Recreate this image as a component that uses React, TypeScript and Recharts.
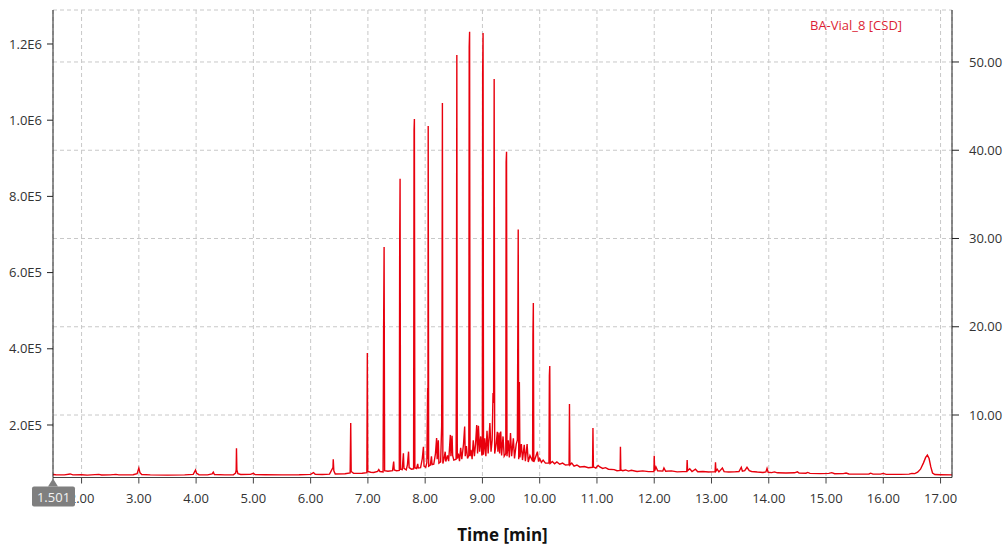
import { CartesianGrid, Line, LineChart, XAxis, YAxis } from 'recharts';

// chromatogram trace, [time min, counts]
const earlyTrace: [number, number][] = [
  [1.501, 70000], [1.55, 69500], [1.7, 69000], [1.8, 71500], [1.85, 69000],
  [2.0, 69500], [2.1, 68500], [2.3, 70500], [2.35, 68800], [2.5, 69000],
  [2.6, 70500], [2.65, 69000], [2.9, 69500], [2.97, 72000], [3.0, 87000],
  [3.02, 75000], [3.05, 70000], [3.2, 69000], [3.5, 68500], [3.8, 69000],
  [3.95, 70500], [3.99, 82000], [4.01, 73000], [4.05, 69500], [4.2, 69000],
  [4.28, 71500], [4.3, 76000], [4.32, 70000], [4.5, 69000], [4.65, 69500],
  [4.69, 74000], [4.7, 82000], [4.705, 139000], [4.712, 82000], [4.73, 72000],
  [4.78, 70000], [4.95, 70500], [5.0, 73000], [5.03, 70000], [5.2, 69500],
  [5.5, 69000], [5.8, 69500], [6.0, 70500], [6.05, 75000], [6.08, 70500],
  [6.2, 70000], [6.33, 71000], [6.39, 88000], [6.395, 110000], [6.405, 80000],
  [6.43, 71500], [6.6, 72000], [6.69, 74000], [6.7, 205000], [6.708, 78000],
  [6.75, 73000], [6.9, 73500], [6.982, 75000], [6.99, 389000], [6.998, 78000],
];

const mainTrace: [number, number][] = [
  [7.05, 76000], [7.1, 75500], [7.17, 78000], [7.19, 83000], [7.21, 78000],
  [7.265, 77000], [7.274, 442000], [7.283, 667000], [7.292, 80000], [7.35, 78500],
  [7.43, 80000], [7.45, 104000], [7.46, 82000], [7.5, 80000],
  [7.548, 81000], [7.555, 662000], [7.562, 846000], [7.57, 84000],
  [7.6, 83000], [7.62, 126000], [7.63, 86000], [7.67, 82000], [7.69, 95000],
  [7.71, 130000], [7.72, 88000], [7.76, 84000],
  [7.798, 85000], [7.806, 974000], [7.812, 1003000], [7.82, 88000],
  [7.85, 86000], [7.87, 98000], [7.88, 87000], [7.92, 88000], [7.95, 112000],
  [7.97, 143000], [7.98, 92000], [8.01, 89000], [8.03, 102000],
  [8.043, 297000], [8.048, 110000], [8.053, 985000], [8.061, 92000],
  [8.09, 95000], [8.11, 118000], [8.12, 96000], [8.15, 97000], [8.18, 125000],
  [8.2, 166000], [8.21, 110000], [8.23, 160000], [8.24, 100000], [8.27, 103000],
  [8.288, 196000], [8.294, 462000], [8.301, 1045000], [8.309, 99000],
  [8.33, 112000], [8.35, 130000], [8.36, 104000], [8.39, 120000], [8.41, 105000],
  [8.44, 174000], [8.45, 118000], [8.47, 172000], [8.48, 120000], [8.5, 108000],
  [8.54, 110000], [8.546, 389000], [8.553, 1171000], [8.561, 112000],
  [8.58, 125000], [8.6, 105000], [8.62, 140000], [8.64, 110000], [8.67, 150000],
  [8.69, 196000], [8.7, 118000], [8.72, 145000], [8.74, 112000],
  [8.762, 120000], [8.769, 1192000], [8.776, 1232000], [8.784, 118000],
  [8.8, 135000], [8.82, 110000], [8.84, 160000], [8.86, 118000], [8.88, 150000],
  [8.9, 200000], [8.915, 125000], [8.93, 198000], [8.95, 130000], [8.97, 170000],
  [8.99, 120000],
  [8.998, 125000], [9.004, 1124000], [9.011, 1229000], [9.019, 122000],
  [9.04, 165000], [9.06, 118000], [9.08, 185000], [9.1, 125000], [9.13, 205000],
  [9.15, 130000], [9.17, 160000], [9.185, 284000], [9.195, 258000],
  [9.205, 1108000], [9.214, 125000],
  [9.24, 150000], [9.26, 182000], [9.27, 130000], [9.29, 180000], [9.3, 125000],
  [9.32, 183000], [9.335, 120000], [9.36, 170000], [9.38, 118000],
  [9.408, 125000], [9.414, 890000], [9.421, 917000], [9.429, 118000],
  [9.45, 160000], [9.47, 115000], [9.49, 179000], [9.51, 118000], [9.54, 165000],
  [9.56, 112000], [9.59, 150000], [9.61, 160000], [9.625, 713000], [9.634, 110000],
  [9.645, 313000], [9.655, 115000], [9.68, 150000], [9.7, 108000], [9.73, 148000],
  [9.75, 105000], [9.78, 150000], [9.8, 103000], [9.83, 120000],
  [9.876, 105000], [9.882, 436000], [9.889, 520000], [9.897, 103000],
  [9.92, 112000], [9.96, 130000], [9.98, 104000], [10.0, 112000], [10.03, 102000],
  [10.06, 108000], [10.1, 100000],
  [10.162, 100000], [10.169, 329000], [10.176, 355000], [10.184, 99000],
  [10.22, 104000], [10.26, 98000], [10.3, 103000], [10.35, 97000], [10.4, 100000],
  [10.45, 95000], [10.513, 96000], [10.52, 255000], [10.528, 95000],
  [10.56, 100000], [10.6, 92000], [10.65, 95000], [10.7, 90000], [10.78, 91000],
  [10.85, 88000], [10.923, 89000], [10.93, 192000], [10.938, 90000],
  [10.98, 87000], [11.02, 94000],
];

const lateTrace: [number, number][] = [
  [11.05, 90000], [11.1, 86000], [11.15, 88000], [11.2, 84000], [11.3, 83000],
  [11.35, 80000], [11.405, 81000], [11.41, 143000], [11.417, 82000],
  [11.45, 80000], [11.5, 82000], [11.55, 79000], [11.6, 81000], [11.7, 78000],
  [11.8, 79500], [11.9, 77500], [11.995, 78000], [12.0, 119000], [12.008, 80000],
  [12.03, 90000], [12.06, 80000], [12.15, 79000], [12.17, 87000], [12.2, 78500],
  [12.3, 79500], [12.4, 77000], [12.5, 77500], [12.568, 78000], [12.575, 108000],
  [12.583, 80000], [12.62, 85000], [12.66, 78000], [12.72, 84000], [12.76, 77500],
  [12.85, 78000], [12.95, 76500], [13.0, 77000], [13.063, 77500], [13.07, 102000],
  [13.078, 79000], [13.1, 84000], [13.13, 77000], [13.19, 87000], [13.22, 77500],
  [13.3, 76500], [13.4, 77000], [13.48, 78000], [13.52, 89000], [13.54, 79000],
  [13.58, 80000], [13.62, 89000], [13.66, 80000], [13.7, 78000], [13.8, 76500],
  [13.9, 75500], [13.95, 77000], [13.97, 86000], [13.99, 76000], [14.05, 75000],
  [14.1, 77000], [14.15, 74500], [14.3, 74000], [14.45, 74500], [14.5, 77000],
  [14.53, 74000], [14.65, 73500], [14.68, 75500], [14.72, 73000], [14.9, 72500],
  [15.05, 73000], [15.1, 75000], [15.15, 72000], [15.3, 72500], [15.35, 74000],
  [15.4, 71500], [15.6, 71000], [15.75, 71500], [15.78, 73500], [15.82, 71000],
  [15.95, 71000], [16.0, 73000], [16.05, 70500], [16.3, 70500], [16.45, 71000],
  [16.5, 73000], [16.55, 72500], [16.6, 76000], [16.65, 84000], [16.7, 100000],
  [16.74, 115000], [16.77, 121000], [16.8, 112000], [16.83, 90000], [16.86, 74000],
  [16.9, 70000], [17.0, 69500], [17.2, 69000],
];

const xTicks = [2, 3, 4, 5, 6, 7, 8, 9, 10, 11, 12, 13, 14, 15, 16, 17, 1.501];
const leftTicks = [200000, 400000, 600000, 800000, 1000000, 1200000];
const rightTicks = [10, 20, 30, 40, 50];
const seriesName = 'BA-Vial_8 [CSD]';
const startTime = 1.501;

const chartData = [...earlyTrace, ...mainTrace, ...lateTrace].map(([t, v]) => ({ t, v }));

const font = '"Open Sans", "Noto Sans", sans-serif';

const sci = (v: number) => {
  const e = Math.floor(Math.log10(v) + 1e-9);
  return `${(v / 10 ** e).toFixed(1)}E${e}`;
};

function TimeTick(props: any) {
  const { x, y, payload } = props;
  if (payload.value === startTime) {
    return (
      <g>
        <polygon points={`${x},${y - 15} ${x - 5},${y - 7} ${x + 5},${y - 7}`} fill="#7f7f7f" />
        <rect x={x - 21} y={y - 7} width={43} height={20} rx={2} fill="#7f7f7f" />
        <text x={x + 0.5} y={y + 8} textAnchor="middle" fill="#f2f2f2" fontSize={13} fontFamily={font}>
          {startTime.toFixed(3)}
        </text>
      </g>
    );
  }
  return (
    <text x={x} y={y} dy="0.71em" textAnchor="middle" fill="#333" fontSize={13} fontFamily={font}>
      {payload.value.toFixed(2)}
    </text>
  );
}

export default function App() {
  return (
    <div style={{ position: 'absolute', left: 0, top: 0, width: 1005, height: 545, background: '#fff' }}>
      <LineChart width={1005} height={545} data={chartData} margin={{ top: 10, right: 0, bottom: 0, left: 0 }}>
        <CartesianGrid yAxisId="right" stroke="#c8c8c8" strokeDasharray="4 3" />
        <XAxis
          dataKey="t"
          type="number"
          domain={[startTime, 17.2]}
          ticks={xTicks}
          interval={0}
          allowDataOverflow
          height={67.5}
          stroke="#444"
          tickSize={6}
          tickMargin={10}
          tick={TimeTick}
          label={{
            value: 'Time [min]',
            position: 'insideBottom',
            offset: 4,
            style: { fontWeight: 700, fontSize: 17, fill: '#111', fontFamily: font },
          }}
        />
        <YAxis
          yAxisId="left"
          domain={[62200, 1289200]}
          ticks={leftTicks}
          allowDataOverflow
          width={53}
          stroke="#222"
          tickSize={6}
          tickMargin={5}
          tickFormatter={sci}
          tick={{ fill: '#333', fontSize: 13, fontFamily: font }}
        />
        <YAxis
          yAxisId="right"
          orientation="right"
          domain={[2.92, 55.89]}
          ticks={rightTicks}
          allowDataOverflow
          width={53}
          stroke="#222"
          tickSize={7}
          tickMargin={10}
          tickFormatter={(v: number) => v.toFixed(2)}
          tick={{ fill: '#333', fontSize: 13, fontFamily: font }}
        />
        <Line
          yAxisId="left"
          type="linear"
          dataKey="v"
          name={seriesName}
          stroke="#e8000d"
          strokeWidth={1.4}
          dot={false}
          isAnimationActive={false}
        />
      </LineChart>
      <div
        style={{
          position: 'absolute',
          left: 810,
          top: 17,
          color: '#dc1f34',
          fontSize: 13,
          lineHeight: '16px',
          fontFamily: font,
          whiteSpace: 'nowrap',
        }}
      >
        {seriesName}
      </div>
    </div>
  );
}
